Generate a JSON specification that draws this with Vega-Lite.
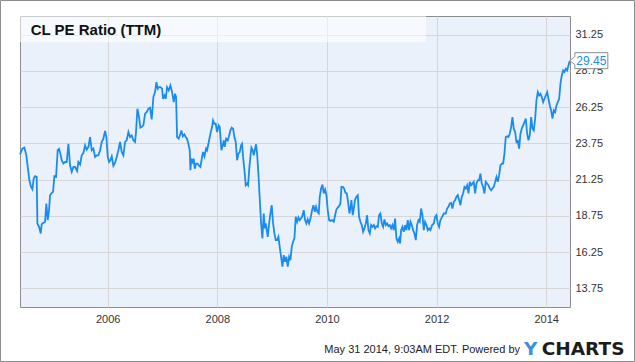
{
  "$schema": "https://vega.github.io/schema/vega-lite/v6.json",
  "width": 550,
  "height": 291,
  "autosize": {"type": "none"},
  "padding": {"left": 20, "top": 16, "right": 65, "bottom": 55},
  "background": "white",
  "config": {
    "view": {"fill": "#eaf1fb", "stroke": "#8c8c8c", "strokeWidth": 1},
    "font": "Liberation Sans"
  },
  "datasets": {
    "pe": [
      {"t":2004.401,"v":22.99},{"t":2004.443,"v":23.38},{"t":2004.480,"v":23.45},{"t":2004.516,"v":22.92},{"t":2004.541,"v":22.12},{"t":2004.571,"v":21.20},{"t":2004.602,"v":20.74},{"t":2004.626,"v":20.58},{"t":2004.650,"v":21.32},{"t":2004.675,"v":21.48},{"t":2004.705,"v":21.43},{"t":2004.717,"v":18.22},{"t":2004.748,"v":17.99},{"t":2004.778,"v":17.53},{"t":2004.796,"v":18.17},{"t":2004.827,"v":18.27},{"t":2004.857,"v":18.33},{"t":2004.881,"v":19.60},{"t":2004.906,"v":18.45},{"t":2004.930,"v":19.14},{"t":2004.948,"v":20.17},{"t":2004.979,"v":20.33},{"t":2005.003,"v":20.40},{"t":2005.027,"v":21.48},{"t":2005.058,"v":21.43},{"t":2005.088,"v":23.27},{"t":2005.112,"v":23.36},{"t":2005.137,"v":23.04},{"t":2005.161,"v":22.58},{"t":2005.192,"v":22.35},{"t":2005.222,"v":22.46},{"t":2005.252,"v":22.46},{"t":2005.283,"v":23.72},{"t":2005.313,"v":22.23},{"t":2005.344,"v":21.78},{"t":2005.374,"v":22.12},{"t":2005.404,"v":22.12},{"t":2005.441,"v":21.84},{"t":2005.465,"v":22.46},{"t":2005.496,"v":22.28},{"t":2005.526,"v":22.92},{"t":2005.557,"v":23.08},{"t":2005.587,"v":23.61},{"t":2005.617,"v":23.31},{"t":2005.648,"v":23.50},{"t":2005.678,"v":24.18},{"t":2005.709,"v":23.27},{"t":2005.739,"v":23.38},{"t":2005.769,"v":22.81},{"t":2005.800,"v":22.92},{"t":2005.830,"v":22.92},{"t":2005.861,"v":23.27},{"t":2005.891,"v":23.84},{"t":2005.921,"v":24.07},{"t":2005.952,"v":24.60},{"t":2005.976,"v":24.18},{"t":2006.001,"v":22.81},{"t":2006.025,"v":22.46},{"t":2006.049,"v":22.58},{"t":2006.074,"v":22.85},{"t":2006.104,"v":22.19},{"t":2006.134,"v":22.39},{"t":2006.165,"v":22.81},{"t":2006.195,"v":23.27},{"t":2006.226,"v":23.84},{"t":2006.256,"v":23.15},{"t":2006.286,"v":22.92},{"t":2006.317,"v":23.84},{"t":2006.347,"v":23.96},{"t":2006.378,"v":24.53},{"t":2006.408,"v":24.18},{"t":2006.438,"v":24.30},{"t":2006.469,"v":23.96},{"t":2006.499,"v":23.84},{"t":2006.517,"v":24.53},{"t":2006.542,"v":26.13},{"t":2006.572,"v":25.56},{"t":2006.596,"v":24.83},{"t":2006.621,"v":24.87},{"t":2006.651,"v":24.99},{"t":2006.682,"v":25.79},{"t":2006.712,"v":25.90},{"t":2006.742,"v":26.13},{"t":2006.773,"v":26.20},{"t":2006.803,"v":25.40},{"t":2006.834,"v":26.94},{"t":2006.864,"v":27.28},{"t":2006.889,"v":27.97},{"t":2006.913,"v":27.51},{"t":2006.937,"v":27.62},
      {"t":2006.962,"v":27.62},{"t":2006.992,"v":27.51},{"t":2007.010,"v":26.82},{"t":2007.035,"v":27.05},{"t":2007.059,"v":26.82},{"t":2007.083,"v":27.62},{"t":2007.114,"v":27.40},{"t":2007.144,"v":27.74},{"t":2007.175,"v":27.28},{"t":2007.205,"v":26.59},{"t":2007.229,"v":27.17},{"t":2007.248,"v":26.94},{"t":2007.266,"v":24.18},{"t":2007.296,"v":24.07},{"t":2007.327,"v":24.41},{"t":2007.345,"v":24.64},{"t":2007.369,"v":24.23},{"t":2007.400,"v":24.37},{"t":2007.424,"v":24.18},{"t":2007.448,"v":24.07},{"t":2007.479,"v":23.61},{"t":2007.497,"v":23.27},{"t":2007.509,"v":21.89},{"t":2007.527,"v":22.69},{"t":2007.552,"v":22.46},{"t":2007.570,"v":22.69},{"t":2007.588,"v":22.00},{"t":2007.613,"v":22.35},{"t":2007.643,"v":22.35},{"t":2007.661,"v":22.23},{"t":2007.692,"v":22.12},{"t":2007.722,"v":22.81},{"t":2007.740,"v":23.15},{"t":2007.765,"v":22.85},{"t":2007.795,"v":23.38},{"t":2007.813,"v":23.27},{"t":2007.844,"v":23.84},{"t":2007.874,"v":24.41},{"t":2007.904,"v":24.87},{"t":2007.923,"v":25.33},{"t":2007.947,"v":25.10},{"t":2007.971,"v":25.10},{"t":2007.996,"v":24.53},{"t":2008.026,"v":24.99},{"t":2008.044,"v":24.87},{"t":2008.075,"v":23.27},{"t":2008.099,"v":23.61},{"t":2008.117,"v":23.95},{"t":2008.136,"v":23.50},{"t":2008.160,"v":24.07},{"t":2008.190,"v":23.95},{"t":2008.209,"v":24.18},{"t":2008.239,"v":24.64},{"t":2008.263,"v":24.83},{"t":2008.288,"v":24.76},{"t":2008.312,"v":24.18},{"t":2008.336,"v":23.84},{"t":2008.361,"v":22.58},{"t":2008.385,"v":23.04},{"t":2008.409,"v":23.15},{"t":2008.434,"v":23.61},{"t":2008.452,"v":23.72},{"t":2008.470,"v":22.81},{"t":2008.495,"v":21.89},{"t":2008.519,"v":20.86},{"t":2008.543,"v":20.97},{"t":2008.561,"v":20.86},{"t":2008.586,"v":22.12},{"t":2008.604,"v":22.81},{"t":2008.622,"v":23.45},{"t":2008.647,"v":23.27},{"t":2008.665,"v":22.92},{"t":2008.683,"v":23.27},{"t":2008.707,"v":23.68},{"t":2008.726,"v":23.04},{"t":2008.750,"v":21.66},{"t":2008.774,"v":19.94},{"t":2008.799,"v":18.22},{"t":2008.823,"v":17.19},{"t":2008.847,"v":18.91},{"t":2008.866,"v":17.88},{"t":2008.884,"v":18.22},{"t":2008.902,"v":17.76},{"t":2008.920,"v":17.30},{"t":2008.945,"v":18.22},{"t":2008.969,"v":18.91},{"t":2008.993,"v":19.48},{"t":2009.018,"v":18.22},{"t":2009.042,"v":17.53},{"t":2009.066,"v":17.07},{"t":2009.091,"v":17.07},{"t":2009.115,"v":17.30},{"t":2009.139,"v":16.61},{"t":2009.164,"v":15.92},{"t":2009.188,"v":15.24},{"t":2009.212,"v":16.04},{"t":2009.237,"v":15.58},{"t":2009.261,"v":15.92},{"t":2009.285,"v":15.24},{"t":2009.310,"v":15.92},{"t":2009.334,"v":15.69},{"t":2009.358,"v":16.61},{"t":2009.383,"v":16.96},{"t":2009.407,"v":17.19},{"t":2009.431,"v":18.68},{"t":2009.456,"v":18.33},{"t":2009.480,"v":18.63},{"t":2009.504,"v":18.45},
      {"t":2009.547,"v":18.68},{"t":2009.577,"v":19.14},{"t":2009.602,"v":18.45},{"t":2009.626,"v":18.22},{"t":2009.650,"v":18.50},{"t":2009.675,"v":18.22},{"t":2009.699,"v":18.56},{"t":2009.729,"v":19.14},{"t":2009.754,"v":19.48},{"t":2009.778,"v":19.02},{"t":2009.802,"v":19.37},{"t":2009.827,"v":19.02},{"t":2009.851,"v":18.91},{"t":2009.869,"v":20.06},{"t":2009.894,"v":20.63},{"t":2009.918,"v":20.90},{"t":2009.942,"v":20.29},{"t":2009.967,"v":20.56},{"t":2009.991,"v":20.17},{"t":2010.015,"v":19.14},{"t":2010.040,"v":18.45},{"t":2010.064,"v":18.40},{"t":2010.094,"v":18.45},{"t":2010.125,"v":18.34},{"t":2010.149,"v":18.79},{"t":2010.173,"v":19.18},{"t":2010.198,"v":19.32},{"t":2010.222,"v":19.41},{"t":2010.246,"v":19.60},{"t":2010.265,"v":20.74},{"t":2010.289,"v":20.74},{"t":2010.313,"v":20.63},{"t":2010.338,"v":20.33},{"t":2010.362,"v":20.29},{"t":2010.386,"v":19.71},{"t":2010.411,"v":18.91},{"t":2010.429,"v":19.25},{"t":2010.447,"v":19.83},{"t":2010.471,"v":18.79},{"t":2010.490,"v":19.25},{"t":2010.514,"v":19.87},{"t":2010.538,"v":20.06},{"t":2010.563,"v":20.17},{"t":2010.587,"v":18.68},{"t":2010.611,"v":18.34},{"t":2010.636,"v":18.11},{"t":2010.660,"v":17.65},{"t":2010.684,"v":17.88},{"t":2010.709,"v":18.22},{"t":2010.733,"v":18.79},{"t":2010.757,"v":17.76},{"t":2010.782,"v":17.53},{"t":2010.806,"v":18.11},{"t":2010.830,"v":17.99},{"t":2010.855,"v":18.11},{"t":2010.879,"v":17.88},{"t":2010.903,"v":18.04},{"t":2010.928,"v":17.99},{"t":2010.952,"v":18.79},{"t":2010.976,"v":18.91},{"t":2011.001,"v":18.22},{"t":2011.025,"v":17.99},{"t":2011.049,"v":18.50},{"t":2011.074,"v":18.11},{"t":2011.098,"v":18.22},{"t":2011.122,"v":18.04},{"t":2011.147,"v":18.11},{"t":2011.171,"v":17.88},{"t":2011.195,"v":18.11},{"t":2011.220,"v":17.76},{"t":2011.244,"v":18.56},{"t":2011.268,"v":17.19},{"t":2011.293,"v":16.96},{"t":2011.317,"v":17.19},{"t":2011.335,"v":16.84},{"t":2011.353,"v":17.76},{"t":2011.378,"v":17.99},{"t":2011.402,"v":17.65},{"t":2011.426,"v":18.11},{"t":2011.451,"v":17.76},{"t":2011.475,"v":18.45},{"t":2011.499,"v":17.76},{"t":2011.524,"v":18.34},{"t":2011.548,"v":18.11},{"t":2011.572,"v":17.76},{"t":2011.597,"v":17.53},{"t":2011.621,"v":17.07},{"t":2011.645,"v":18.11},{"t":2011.670,"v":18.45},{"t":2011.694,"v":18.34},{"t":2011.718,"v":19.25},{"t":2011.743,"v":18.79},{"t":2011.767,"v":17.76},{"t":2011.791,"v":18.34},{"t":2011.816,"v":18.11},{"t":2011.840,"v":17.76},{"t":2011.864,"v":17.88},
      {"t":2011.889,"v":17.76},{"t":2011.919,"v":18.11},{"t":2011.950,"v":18.22},{"t":2011.974,"v":18.68},{"t":2011.998,"v":18.79},{"t":2012.023,"v":18.22},{"t":2012.047,"v":17.99},{"t":2012.071,"v":18.45},{"t":2012.102,"v":18.68},{"t":2012.132,"v":18.91},{"t":2012.168,"v":18.91},{"t":2012.193,"v":19.25},{"t":2012.217,"v":19.37},{"t":2012.242,"v":19.60},{"t":2012.266,"v":19.64},{"t":2012.290,"v":19.25},{"t":2012.315,"v":19.71},{"t":2012.339,"v":19.83},{"t":2012.363,"v":20.06},{"t":2012.388,"v":20.17},{"t":2012.412,"v":19.83},{"t":2012.436,"v":19.48},{"t":2012.460,"v":20.06},{"t":2012.485,"v":20.29},{"t":2012.509,"v":20.74},{"t":2012.533,"v":20.63},{"t":2012.558,"v":20.86},{"t":2012.582,"v":20.29},{"t":2012.606,"v":21.09},{"t":2012.631,"v":20.86},{"t":2012.655,"v":20.97},{"t":2012.679,"v":21.09},{"t":2012.704,"v":20.29},{"t":2012.728,"v":20.97},{"t":2012.752,"v":21.20},{"t":2012.777,"v":21.20},{"t":2012.801,"v":21.66},{"t":2012.825,"v":20.97},{"t":2012.850,"v":20.74},{"t":2012.874,"v":20.29},{"t":2012.898,"v":21.09},{"t":2012.923,"v":20.97},{"t":2012.947,"v":20.86},{"t":2012.971,"v":20.63},{"t":2012.996,"v":20.51},{"t":2013.020,"v":20.63},{"t":2013.044,"v":20.74},{"t":2013.069,"v":21.09},{"t":2013.093,"v":21.43},{"t":2013.117,"v":21.09},{"t":2013.142,"v":21.55},{"t":2013.166,"v":22.23},{"t":2013.190,"v":22.35},{"t":2013.215,"v":22.35},{"t":2013.239,"v":23.04},{"t":2013.263,"v":24.18},{"t":2013.288,"v":24.23},{"t":2013.312,"v":24.18},{"t":2013.336,"v":24.41},{"t":2013.361,"v":24.87},{"t":2013.385,"v":25.56},{"t":2013.409,"v":24.76},{"t":2013.434,"v":24.53},{"t":2013.458,"v":23.84},{"t":2013.482,"v":23.91},{"t":2013.507,"v":23.38},{"t":2013.531,"v":24.41},{"t":2013.555,"v":24.76},{"t":2013.580,"v":24.99},{"t":2013.604,"v":25.22},{"t":2013.628,"v":25.45},{"t":2013.653,"v":24.41},{"t":2013.677,"v":23.96},{"t":2013.701,"v":24.30},{"t":2013.726,"v":25.56},{"t":2013.750,"v":24.76},{"t":2013.774,"v":24.64},{"t":2013.799,"v":25.45},{"t":2013.823,"v":26.71},{"t":2013.847,"v":27.28},{"t":2013.872,"v":27.05},{"t":2013.896,"v":27.17},{"t":2013.920,"v":26.94},{"t":2013.945,"v":26.59},{"t":2013.969,"v":26.82},{"t":2013.993,"v":27.05},{"t":2014.018,"v":27.28},{"t":2014.042,"v":26.82},{"t":2014.066,"v":26.36},{"t":2014.091,"v":26.02},{"t":2014.115,"v":25.45},{"t":2014.139,"v":26.02},{"t":2014.164,"v":25.90},{"t":2014.188,"v":26.36},{"t":2014.212,"v":26.59},{"t":2014.237,"v":26.82},{"t":2014.261,"v":27.86},{"t":2014.285,"v":28.43},{"t":2014.310,"v":28.77},{"t":2014.334,"v":28.66},{"t":2014.358,"v":28.89},{"t":2014.383,"v":28.77},{"t":2014.407,"v":29.12},{"t":2014.432,"v":29.45}
    ],
    "last": [{"t": 2014.432, "v": 29.45, "label": "29.45"}],
    "one": [{}]
  },
  "layer": [
    {
      "data": {"name": "pe"},
      "mark": {"type": "line", "color": "#1a8cf0", "strokeWidth": 1.8, "interpolate": "linear"},
      "encoding": {
        "x": {
          "field": "t", "type": "quantitative",
          "scale": {"domain": [2004.40, 2014.435], "zero": false, "nice": false},
          "axis": {
            "title": null, "values": [2006, 2008, 2010, 2012, 2014], "format": "d",
            "grid": true, "gridColor": "#d6d6d6", "gridWidth": 1,
            "ticks": false, "domain": false, "labelPadding": 6,
            "labelFont": "Liberation Sans", "labelFontSize": 11, "labelColor": "#333333"
          }
        },
        "y": {
          "field": "v", "type": "quantitative",
          "scale": {"domain": [12.46, 32.53], "zero": false, "nice": false},
          "axis": {
            "title": null, "orient": "right",
            "values": [13.75, 16.25, 18.75, 21.25, 23.75, 26.25, 28.75, 31.25], "format": ".2f",
            "grid": true, "gridColor": "#d6d6d6", "gridWidth": 1,
            "ticks": false, "domain": false, "labelPadding": 5,
            "labelFont": "Liberation Sans", "labelFontSize": 11, "labelColor": "#333333",
            "labelBaseline": "middle"
          }
        }
      }
    },
    {
      "data": {"name": "one"},
      "mark": {"type": "rect", "fill": "white", "fillOpacity": 0.55, "stroke": null},
      "encoding": {
        "x": {"datum": 2004.40, "type": "quantitative", "scale": {"domain": [2004.40, 2014.435], "zero": false, "nice": false}, "axis": {"title": null}},
        "x2": {"datum": 2011.808},
        "y": {"datum": 32.53, "type": "quantitative", "scale": {"domain": [12.46, 32.53], "zero": false, "nice": false}, "axis": {"title": null, "orient": "right"}},
        "y2": {"datum": 30.716}
      }
    },
    {
      "data": {"name": "one"},
      "mark": {"type": "text", "align": "left", "baseline": "alphabetic", "font": "Liberation Sans", "fontSize": 15, "fontWeight": "bold", "color": "#111111", "text": "CL PE Ratio (TTM)"},
      "encoding": {
        "x": {"datum": 2004.595, "type": "quantitative", "scale": {"domain": [2004.40, 2014.435], "zero": false, "nice": false}, "axis": {"title": null}},
        "y": {"datum": 31.22, "type": "quantitative", "scale": {"domain": [12.46, 32.53], "zero": false, "nice": false}, "axis": {"title": null, "orient": "right"}}
      }
    },
    {
      "data": {"name": "last"},
      "mark": {"type": "point", "shape": "M0,0L5,-4V-8H38V8H5V4Z", "size": 4, "filled": true, "fill": "white", "stroke": "#8c8c8c", "strokeWidth": 1, "opacity": 1},
      "encoding": {
        "x": {"field": "t", "type": "quantitative", "scale": {"domain": [2004.40, 2014.435], "zero": false, "nice": false}, "axis": {"title": null}},
        "y": {"field": "v", "type": "quantitative", "scale": {"domain": [12.46, 32.53], "zero": false, "nice": false}, "axis": {"title": null, "orient": "right"}}
      }
    },
    {
      "data": {"name": "last"},
      "mark": {"type": "text", "dx": 21.5, "align": "center", "baseline": "middle", "font": "Liberation Sans", "fontSize": 12, "color": "#1a8cf0"},
      "encoding": {
        "x": {"field": "t", "type": "quantitative", "scale": {"domain": [2004.40, 2014.435], "zero": false, "nice": false}, "axis": {"title": null}},
        "y": {"field": "v", "type": "quantitative", "scale": {"domain": [12.46, 32.53], "zero": false, "nice": false}, "axis": {"title": null, "orient": "right"}},
        "text": {"field": "label"}
      }
    },
    {
      "data": {"name": "one"},
      "mark": {"type": "text", "align": "right", "baseline": "alphabetic", "font": "Liberation Sans", "fontSize": 11, "color": "#222222", "text": "May 31 2014, 9:03AM EDT.  Powered by"},
      "encoding": {
        "x": {"datum": 2013.523, "type": "quantitative", "scale": {"domain": [2004.40, 2014.435], "zero": false, "nice": false}, "axis": {"title": null}},
        "y": {"datum": 9.29, "type": "quantitative", "scale": {"domain": [12.46, 32.53], "zero": false, "nice": false}, "axis": {"title": null, "orient": "right"}}
      }
    },
    {
      "data": {"name": "one"},
      "mark": {"type": "text", "align": "right", "baseline": "alphabetic", "font": "DejaVu Sans", "fontWeight": "bold", "fontSize": 18.5, "color": "#3d8fe0", "text": "Y"},
      "encoding": {
        "x": {"datum": 2013.842, "type": "quantitative", "scale": {"domain": [2004.40, 2014.435], "zero": false, "nice": false}, "axis": {"title": null}},
        "y": {"datum": 9.18, "type": "quantitative", "scale": {"domain": [12.46, 32.53], "zero": false, "nice": false}, "axis": {"title": null, "orient": "right"}}
      }
    },
    {
      "data": {"name": "one"},
      "mark": {"type": "text", "align": "right", "baseline": "alphabetic", "font": "DejaVu Sans", "fontWeight": "bold", "fontSize": 18.5, "color": "#1c1c1c", "text": "CHARTS"},
      "encoding": {
        "x": {"datum": 2015.429, "type": "quantitative", "scale": {"domain": [2004.40, 2014.435], "zero": false, "nice": false}, "axis": {"title": null}},
        "y": {"datum": 9.18, "type": "quantitative", "scale": {"domain": [12.46, 32.53], "zero": false, "nice": false}, "axis": {"title": null, "orient": "right"}}
      }
    },
    {
      "data": {"name": "one"},
      "mark": {"type": "rect", "fill": null, "stroke": "#8c8c8c", "strokeWidth": 1},
      "encoding": {
        "x": {"datum": 2004.044, "type": "quantitative", "scale": {"domain": [2004.40, 2014.435], "zero": false, "nice": false}, "axis": {"title": null}},
        "x2": {"datum": 2015.612},
        "y": {"datum": 33.599, "type": "quantitative", "scale": {"domain": [12.46, 32.53], "zero": false, "nice": false}, "axis": {"title": null, "orient": "right"}},
        "y2": {"datum": 8.701}
      }
    }
  ]
}
